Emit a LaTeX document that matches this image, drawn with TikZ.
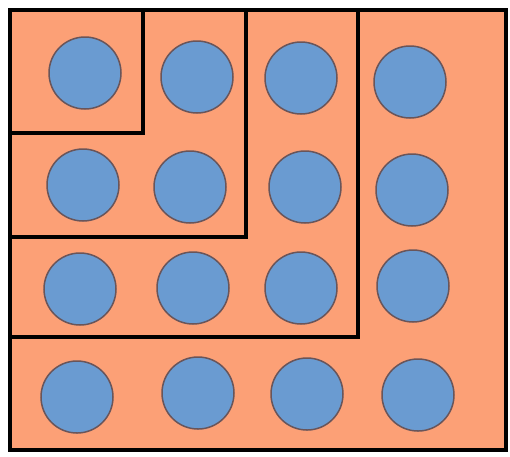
\documentclass[tikz,border=0pt]{standalone}
\definecolor{salmonfill}{RGB}{252,160,118}
\definecolor{dotblue}{RGB}{106,155,209}
\definecolor{dotedge}{RGB}{105,85,90}
\begin{document}
\begin{tikzpicture}[x=1pt,y=-1pt,
  dot/.style={circle,fill=dotblue,draw=dotedge,line width=1.5pt,minimum size=72pt,inner sep=0pt},
  wall/.style={draw=black,line width=4pt,line join=miter}]
\useasboundingbox (0,0) rectangle (510,456);
\fill[white] (0,0) rectangle (510,456);
\filldraw[fill=salmonfill,wall] (10,10) rectangle (506,450);
\draw[wall] (143,10) -- (143,133) -- (10,133);
\draw[wall] (246,10) -- (246,237) -- (10,237);
\draw[wall] (358,10) -- (358,337) -- (10,337);
% row 1
\node[dot] (c11) at (85,73) {};
\node[dot] (c12) at (197,77) {};
\node[dot] (c13) at (301,78) {};
\node[dot] (c14) at (410,82) {};
% row 2
\node[dot] (c21) at (83,185) {};
\node[dot] (c22) at (190,187) {};
\node[dot] (c23) at (305,187) {};
\node[dot] (c24) at (412,190) {};
% row 3
\node[dot] (c31) at (80,289) {};
\node[dot] (c32) at (193,288) {};
\node[dot] (c33) at (301,288) {};
\node[dot] (c34) at (413,286) {};
% row 4
\node[dot] (c41) at (77,397) {};
\node[dot] (c42) at (198,393) {};
\node[dot] (c43) at (307,394) {};
\node[dot] (c44) at (418,395) {};
\end{tikzpicture}
\end{document}
